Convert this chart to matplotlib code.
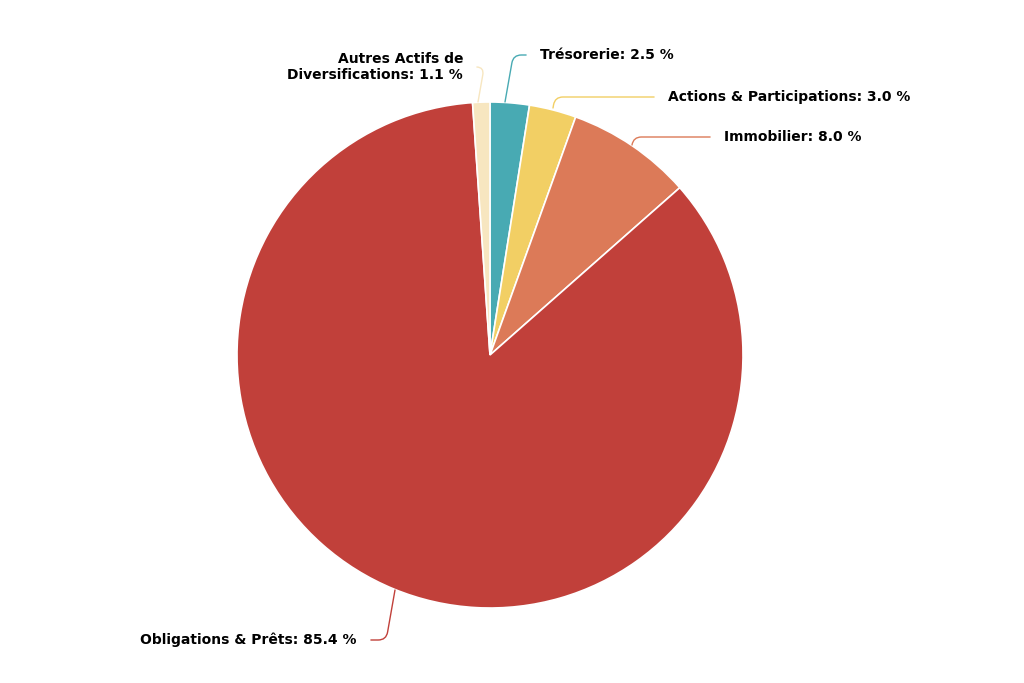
import matplotlib.pyplot as plt
import numpy as np

labels = ["Trésorerie", "Actions & Participations", "Immobilier", "Obligations & Prêts", "Autres Actifs de\nDiversifications"]
values = [2.5, 3.0, 8.0, 85.4, 1.1]
colors = ["#48aab3", "#f2cf64", "#dc7a58", "#c1403a", "#f7e6c0"]

W, H = 1024, 683
cx, cy, R = 490, 355, 253
fig = plt.figure(figsize=(W/100, H/100), dpi=100)
ax = fig.add_axes([(cx-R)/W, (H-cy-R)/H, 2*R/W, 2*R/H])
ax.pie(values, colors=colors, startangle=90, counterclock=False,
       wedgeprops=dict(edgecolor="white", linewidth=1.2), radius=1)
ax.set_xlim(-1, 1); ax.set_ylim(-1, 1); ax.set_aspect("equal"); ax.axis("off")

def d(px, py):
    return ((px-cx)/R, (cy-py)/R)

# (text pos px, anchor on slice px, ha)
specs = [((540, 55), (505, 102), "left"),
         ((668, 97), (553, 108), "left"),
         ((724, 137), (632, 145), "left"),
         ((357, 640), (395, 590), "right"),
         ((463, 67), (478, 102), "right")]
for lab, v, c, (tp, ap, ha) in zip(labels, values, colors, specs):
    ax.annotate(f"{lab}: {v:.1f} %", xy=d(*ap), xytext=d(*tp), ha=ha, va="center",
                fontsize=10, fontweight="bold", color="black", annotation_clip=False,
                arrowprops=dict(arrowstyle="-", color=c, lw=1,
                                shrinkA=8, shrinkB=0,
                                connectionstyle="angle,angleA=0,angleB=80,rad=8"))
fig.savefig("out.png", dpi=100)
